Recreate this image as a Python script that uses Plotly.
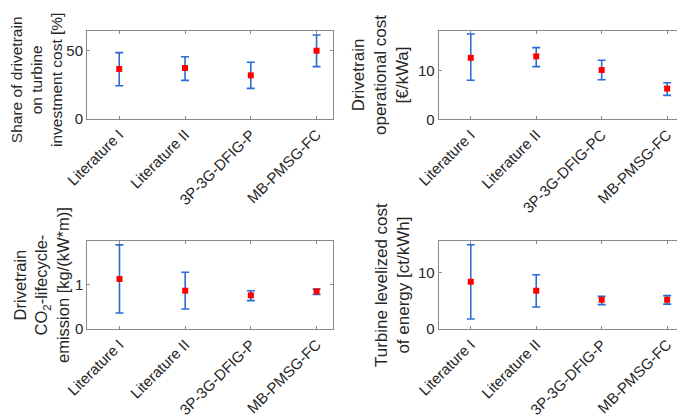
import plotly.graph_objects as go

# ---- data ----
cats_a = ["Literature I", "Literature II", "3P-3G-DFIG-P", "MB-PMSG-FC"]
cats_b = ["Literature I", "Literature II", "3P-3G-DFIG-PC", "MB-PMSG-FC"]

share_mean = [36.8, 37.5, 32.1, 50.2]
share_upper = [48.8, 45.8, 41.7, 61.8]
share_lower = [24.5, 28.4, 22.5, 38.5]

opex_mean = [12.6, 12.9, 10.1, 6.3]
opex_upper = [17.5, 14.7, 12.1, 7.5]
opex_lower = [8.0, 10.8, 8.1, 4.9]

co2_mean = [1.13, 0.865, 0.76, 0.85]
co2_upper = [1.90, 1.28, 0.865, 0.90]
co2_lower = [0.36, 0.45, 0.64, 0.78]

lcoe_mean = [8.35, 6.76, 5.17, 5.17]
lcoe_upper = [14.9, 9.6, 5.8, 5.9]
lcoe_lower = [1.76, 3.88, 4.3, 4.4]

titles = [
    "Share of drivetrain<br>on turbine<br>investment cost [%]",
    "Drivetrain<br>operational cost<br>[€/kWa]",
    "Drivetrain<br>CO<sub>2</sub>-lifecycle-<br>emission [kg/(kW*m)]",
    "Turbine levelized cost<br>of energy [ct/kWh]",
]

# page offset (default body margin) -> figure drawn inside the window
OFF = 8
W, H = 685 - OFF, 418 - OFF
BLUE = "#2B6CD4"
GREY = "#8a8a8a"
TXT = "#262626"
FONT = "Liberation Sans"


def px(xp):
    return (xp - OFF) / W


def py(yp):
    return 1 - (yp - OFF) / H


panels = [
    dict(cats=cats_a, m=share_mean, u=share_upper, l=share_lower,
         xd=(87, 333), yd=(31, 119), yr=[0, 64.7], tv=[0, 50],
         title=titles[0], tx=37, ty=80, ts=15.5),
    dict(cats=cats_b, m=opex_mean, u=opex_upper, l=opex_lower,
         xd=(438.7, 683.5), yd=(31, 119.3), yr=[0, 18.1], tv=[0, 10],
         title=titles[1], tx=380, ty=75, ts=17),
    dict(cats=cats_a, m=co2_mean, u=co2_upper, l=co2_lower,
         xd=(87.3, 333), yd=(241.3, 329), yr=[0, 1.98], tv=[0, 1],
         title=titles[2], tx=41, ty=285, ts=16.5),
    dict(cats=cats_a, m=lcoe_mean, u=lcoe_upper, l=lcoe_lower,
         xd=(438.7, 683.5), yd=(241.3, 329), yr=[0, 15.5], tv=[0, 10],
         title=titles[3], tx=392, ty=285, ts=17),
]

fig = go.Figure()
annotations = []
for i, p in enumerate(panels, start=1):
    xa = "x" if i == 1 else f"x{i}"
    ya = "y" if i == 1 else f"y{i}"
    err_plus = [u - m for u, m in zip(p["u"], p["m"])]
    err_minus = [m - l for m, l in zip(p["m"], p["l"])]
    fig.add_trace(go.Scatter(
        x=p["cats"], y=p["m"], mode="markers",
        marker=dict(symbol="square", size=6, color="#FF0000"),
        error_y=dict(type="data", symmetric=False, array=err_plus,
                     arrayminus=err_minus, color=BLUE, thickness=1.6, width=4),
        xaxis=xa, yaxis=ya, showlegend=False, cliponaxis=False,
    ))
    xkey = "xaxis" if i == 1 else f"xaxis{i}"
    ykey = "yaxis" if i == 1 else f"yaxis{i}"
    x0, x1 = p["xd"]
    y0, y1 = p["yd"]
    fig.update_layout(**{
        xkey: dict(domain=[px(x0), px(x1)], anchor=ya, type="category",
                   range=[-0.49, 3.25], tickangle=-45, automargin=False,
                   showline=True, linecolor=GREY, linewidth=1, mirror="ticks",
                   ticks="inside", ticklen=3, tickcolor=GREY, showgrid=False,
                   zeroline=False, tickfont=dict(size=15, color=TXT, family=FONT)),
        ykey: dict(domain=[py(y1), py(y0)], anchor=xa, range=p["yr"],
                   tickvals=p["tv"], automargin=False,
                   showline=True, linecolor=GREY, linewidth=1,
                   mirror="ticks", ticks="inside", ticklen=3, tickcolor=GREY,
                   showgrid=False, zeroline=False,
                   tickfont=dict(size=15, color=TXT, family=FONT)),
    })
    annotations.append(dict(
        text=p["title"], textangle=-90, xref="paper", yref="paper",
        x=px(p["tx"]), y=py(p["ty"]), xanchor="center",
        yanchor="middle", showarrow=False, align="center",
        font=dict(size=p["ts"], color=TXT, family=FONT),
    ))

fig.update_layout(
    width=W, height=H, margin=dict(l=0, r=0, t=0, b=0),
    paper_bgcolor="white", plot_bgcolor="white",
    annotations=annotations,
)

fig.write_html("out.html")
